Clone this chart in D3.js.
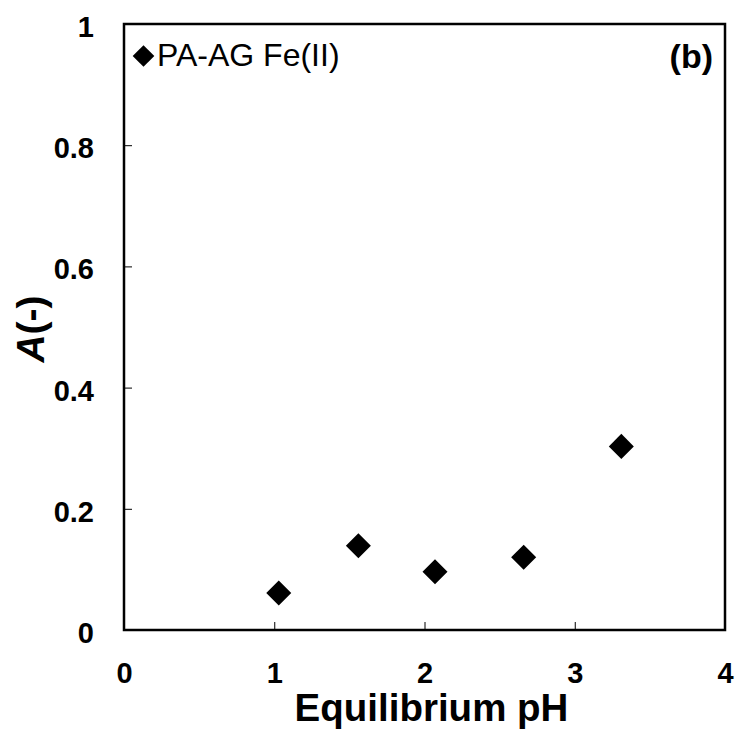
<!DOCTYPE html>
<html><head><meta charset="utf-8">
<script src="https://cdn.jsdelivr.net/npm/d3@7"></script>
<style>body{margin:0;background:#fff}text{font-family:"Liberation Sans",Arial,sans-serif}</style>
</head><body>
<script>
const phValues = [1.03, 1.56, 2.07, 2.66, 3.31];
const aValues = [0.061, 0.139, 0.096, 0.120, 0.303];
const xTicks = [0, 1, 2, 3, 4];
const yTicks = [0, 0.2, 0.4, 0.6, 0.8, 1];
const seriesName = "PA-AG Fe(II)";

const W = 736, H = 731;
const m = {left: 124, right: 736 - 725, top: 24, bottom: 731 - 630};
const svg = d3.select("body").append("svg").attr("width", W).attr("height", H);
const x = d3.scaleLinear().domain([0, 4]).range([m.left, W - m.right]);
const y = d3.scaleLinear().domain([0, 1]).range([H - m.bottom, m.top]);

const xAxis = svg.append("g").attr("transform", `translate(0,${y(0)})`)
  .call(d3.axisBottom(x).tickValues(xTicks).tickSizeInner(-8).tickSizeOuter(0).tickFormat(d3.format("d")).tickPadding(22));
const yAxis = svg.append("g").attr("transform", `translate(${x(0)},0)`)
  .call(d3.axisLeft(y).tickValues(yTicks).tickSizeInner(-8).tickSizeOuter(0).tickFormat(d => d === 0 || d === 1 ? String(d) : d3.format(".1f")(d)).tickPadding(30));
[xAxis, yAxis].forEach(a => {
  a.select(".domain").remove();
  a.selectAll(".tick line").attr("stroke", "#000").attr("stroke-width", 1);
  a.selectAll(".tick text").attr("fill", "#000").style("font-size", "29px").style("font-weight", "bold");
});
xAxis.selectAll(".tick text").attr("dy", null).attr("y", 53);
yAxis.selectAll(".tick text").attr("dy", "0.43em");

svg.append("rect").attr("x", x(0)).attr("y", y(1)).attr("width", x(4) - x(0)).attr("height", y(0) - y(1))
  .attr("fill", "none").attr("stroke", "#000").attr("stroke-width", 2.5);

const diamond = d3.symbol(d3.symbolSquare, 313);
svg.append("g").selectAll("path").data(phValues.map((p, i) => [p, aValues[i]])).join("path")
  .attr("d", diamond)
  .attr("transform", d => `translate(${x(d[0])},${y(d[1])}) rotate(45)`)
  .attr("fill", "#000");

svg.append("path").attr("d", d3.symbol(d3.symbolSquare, 235)).attr("transform", "translate(143.5,56) rotate(45)").attr("fill", "#000");
svg.append("text").attr("x", 157).attr("y", 66).style("font-size", "32px").text(seriesName);

svg.append("text").attr("x", 713).attr("y", 68).attr("text-anchor", "end").style("font-size", "34px").style("font-weight", "bold").text("(b)");

svg.append("text").attr("x", (x(0) + x(4)) / 2 + 7).attr("y", 721).attr("text-anchor", "middle")
  .style("font-size", "38.5px").style("font-weight", "bold").text("Equilibrium pH");
const yt = svg.append("text").attr("transform", `translate(44,${(y(0) + y(1)) / 2 + 2}) rotate(-90)`).attr("text-anchor", "middle")
  .style("font-size", "39px").style("font-weight", "bold");
yt.append("tspan").style("font-style", "italic").text("A");
yt.append("tspan").text("(-)");
</script>
</body></html>
